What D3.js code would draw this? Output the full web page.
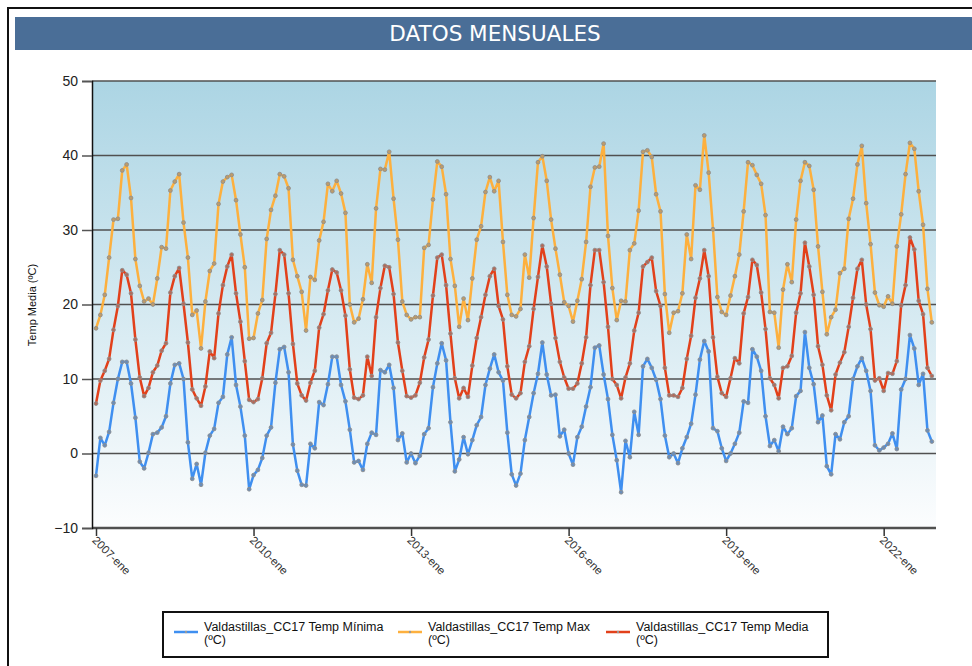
<!DOCTYPE html>
<html>
<head>
<meta charset="utf-8">
<script src="https://cdn.jsdelivr.net/npm/d3@7"></script>
<style>
  body { margin: 0; background: #fff; }
  svg { display: block; font-family: "Liberation Sans", Arial, sans-serif; }
</style>
</head>
<body>
<svg width="972" height="666"></svg>
<script>
var chartTitle = "DATOS MENSUALES";
var yAxisTitle = "Temp Media (ºC)";
var startYear = 2007;
var monthNames = ["ene","feb","mar","abr","may","jun","jul","ago","sep","oct","nov","dic"];
var yTicks = [-10, 0, 10, 20, 30, 40, 50];
var xTickLabels = ["2007-ene", "2010-ene", "2013-ene", "2016-ene", "2019-ene", "2022-ene"];
var seriesNames = ["Valdastillas_CC17 Temp Mínima (ºC)", "Valdastillas_CC17 Temp Max (ºC)", "Valdastillas_CC17 Temp Media (ºC)"];

// monthly values, 2007-ene .. 2022-dic
var tempMin = [
  -3.0, 2.1, 1.1, 2.9, 6.8, 10.0, 12.3, 12.3, 9.4, 4.8, -1.1, -2.0,
  0.1, 2.6, 2.8, 3.5, 5.0, 9.4, 11.9, 12.1, 10.0, 1.5, -3.4, -1.4,
  -4.2, 0.1, 2.4, 3.3, 6.8, 7.6, 13.3, 15.6, 9.2, 6.3, 2.4, -4.8,
  -2.9, -2.2, -0.6, 2.4, 3.5, 9.5, 14.0, 14.3, 10.9, 1.2, -2.3, -4.2,
  -4.3, 1.3, 0.7, 6.9, 6.5, 9.3, 13.0, 13.0, 9.2, 7.0, 3.2, -1.2,
  -1.0, -2.2, 1.3, 2.8, 2.5, 11.2, 10.9, 11.9, 8.8, 1.8, 2.7, -1.2,
  0.0, -1.3, -0.3, 2.6, 3.4, 8.9, 12.1, 14.8, 12.5, 4.2, -2.4, -0.8,
  2.2, -0.1, 1.8, 3.8, 4.9, 9.2, 11.4, 13.3, 10.9, 9.8, 2.8, -2.8,
  -4.3, -2.7, 1.8, 4.9, 8.1, 10.7, 14.9, 10.6, 7.8, 7.9, 2.3, 3.2,
  0.0, -1.5, 2.2, 3.6, 6.3, 8.9, 14.2, 14.5, 10.6, 7.3, 2.5, -0.9,
  -5.2, 1.7, -0.5, 5.6, 2.5, 11.7, 12.7, 11.5, 9.9, 7.3, 2.4, -0.5,
  0.0, -1.3, 0.7, 2.2, 4.0, 7.9, 12.6, 15.1, 13.7, 3.4, 3.0, 0.7,
  -1.0, 0.0, 1.3, 2.8, 7.0, 6.8, 14.0, 13.0, 11.1, 5.0, 1.0, 1.8,
  0.3, 3.6, 2.6, 3.4, 7.7, 8.4, 16.3, 11.5, 9.3, 4.2, 5.1, -1.7,
  -2.8, 2.6, 1.9, 4.2, 5.0, 10.0, 11.7, 12.8, 11.1, 8.4, 1.1, 0.4,
  0.8, 1.3, 2.7, 0.6, 8.6, 10.0, 15.9, 14.1, 9.2, 10.7, 3.1, 1.6
];
var tempMax = [
  16.8, 18.6, 21.3, 26.3, 31.4, 31.5, 38.0, 38.8, 34.3, 26.1, 22.5, 20.4,
  20.8, 20.0, 23.5, 27.7, 27.5, 35.3, 36.5, 37.5, 31.0, 26.3, 18.6, 19.2,
  14.1, 20.4, 24.5, 25.5, 33.5, 36.5, 37.1, 37.4, 34.0, 29.4, 25.0, 15.4,
  15.5, 18.8, 20.6, 28.8, 32.7, 34.6, 37.5, 37.2, 35.6, 26.0, 23.8, 21.7,
  16.5, 23.7, 23.3, 28.6, 31.1, 36.2, 35.2, 36.6, 34.9, 32.3, 20.0, 17.6,
  18.1, 20.7, 25.4, 22.9, 32.9, 38.2, 38.1, 40.5, 34.2, 28.7, 20.4, 18.6,
  18.0, 18.3, 18.3, 27.6, 28.0, 34.1, 39.2, 38.5, 34.8, 26.1, 22.5, 17.0,
  20.8, 17.9, 23.5, 28.7, 30.5, 35.1, 37.1, 35.2, 36.6, 28.4, 21.3, 18.6,
  18.4, 19.4, 26.7, 23.6, 31.6, 39.1, 39.9, 36.6, 31.4, 27.5, 24.0, 20.3,
  19.8, 17.7, 20.5, 23.4, 28.4, 35.8, 38.4, 38.5, 41.6, 29.2, 22.2, 17.9,
  20.5, 20.4, 27.3, 28.2, 32.6, 40.5, 40.7, 39.8, 34.8, 32.5, 21.4, 16.2,
  18.9, 19.1, 21.5, 29.4, 26.1, 36.0, 35.4, 42.7, 37.7, 30.1, 21.0, 19.0,
  18.6, 21.2, 23.8, 26.7, 32.5, 39.1, 38.7, 37.4, 36.2, 32.0, 19.0, 18.9,
  14.2, 22.0, 25.4, 23.0, 31.4, 36.6, 39.1, 38.6, 35.4, 27.8, 21.7, 16.0,
  18.3, 19.3, 24.2, 24.8, 31.5, 34.2, 38.8, 41.3, 33.6, 28.1, 21.6, 19.9,
  19.7, 21.1, 20.1, 27.8, 32.1, 37.5, 41.7, 40.9, 35.2, 30.7, 22.1, 17.6
];
var tempMedia = [
  6.7, 9.8, 11.1, 12.7, 16.6, 19.8, 24.6, 24.0, 21.5, 15.3, 10.2, 7.7,
  8.8, 10.9, 11.8, 13.8, 14.8, 21.6, 23.8, 24.9, 20.1, 14.9, 8.6, 7.4,
  6.4, 9.0, 13.7, 12.8, 18.8, 22.6, 25.1, 26.7, 21.5, 17.7, 12.4, 7.2,
  6.9, 7.3, 10.1, 14.8, 16.2, 21.4, 27.3, 26.7, 21.5, 14.7, 9.4, 7.8,
  7.1, 9.5, 11.1, 16.9, 18.7, 21.9, 24.7, 24.3, 21.9, 18.5, 11.3, 7.5,
  7.3, 7.8, 13.0, 10.4, 18.3, 22.2, 25.2, 25.0, 21.4, 14.9, 11.1, 7.7,
  7.5, 7.8, 9.5, 12.9, 15.3, 21.2, 26.3, 26.7, 22.6, 16.1, 10.1, 7.4,
  8.8, 7.6, 11.8, 15.5, 18.3, 21.3, 23.8, 24.8, 19.8, 18.0, 11.7, 7.9,
  7.4, 8.1, 12.3, 14.4, 19.4, 23.7, 27.9, 25.1, 20.1, 15.5, 12.3, 10.2,
  8.7, 8.7, 9.4, 12.1, 15.6, 22.6, 27.3, 27.3, 23.0, 17.0, 10.0, 9.2,
  7.4, 10.2, 12.1, 16.5, 18.9, 25.1, 25.7, 26.3, 21.8, 19.8, 11.5, 7.8,
  7.8, 7.6, 8.8, 12.7, 15.8, 20.9, 23.5, 27.3, 23.8, 15.6, 10.3, 8.1,
  7.6, 10.1, 12.8, 12.1, 18.8, 21.0, 26.0, 25.3, 21.6, 16.7, 10.1, 9.2,
  7.4, 11.5, 11.7, 13.1, 18.9, 21.5, 28.3, 25.1, 21.3, 14.4, 11.9, 7.8,
  5.8, 10.6, 12.2, 13.6, 17.0, 20.9, 24.8, 26.0, 20.0, 16.7, 9.8, 10.1,
  8.4, 10.8, 10.7, 12.4, 19.9, 22.6, 29.0, 27.4, 20.5, 18.7, 11.5, 10.4
];
var seriesColors = ["#3f8ff0", "#fdb03e", "#e2401a"];

// category labels, one per month
var months = tempMin.map(function(d, i) {
    return (startYear + Math.floor(i / 12)) + "-" + monthNames[i % 12];
});

var svg = d3.select("svg");

// outer frame and title bar
svg.append("rect")
   .attr("x", 8).attr("y", 8)
   .attr("width", 1000).attr("height", 700)
   .attr("fill", "#fff")
   .attr("stroke", "#111")
   .attr("stroke-width", 2);

svg.append("rect")
   .attr("x", 15).attr("y", 17)
   .attr("width", 980).attr("height", 33)
   .attr("fill", "#4a6e97");

svg.append("text")
   .attr("x", 495).attr("y", 41)
   .attr("text-anchor", "middle")
   .attr("fill", "#fff")
   .style("font-family", "'DejaVu Sans', Verdana, sans-serif")
   .style("font-size", "21.5px")
   .text(chartTitle);

var plotLeft = 92, plotRight = 936, plotTop = 81, plotBottom = 528;

var x = d3.scalePoint().domain(months).range([96, 96 + 191 * 4.376]),
    y = d3.scaleLinear().domain([-10, 50]).range([plotBottom, plotTop]);

// plot background gradient
var grad = svg.append("defs").append("linearGradient")
   .attr("id", "bg").attr("x1", 0).attr("y1", 0).attr("x2", 0).attr("y2", 1);
grad.append("stop").attr("offset", "0%").attr("stop-color", "#acd5e4");
grad.append("stop").attr("offset", "100%").attr("stop-color", "#fcfdfe");

svg.append("rect")
   .attr("x", plotLeft).attr("y", plotTop)
   .attr("width", plotRight - plotLeft).attr("height", plotBottom - plotTop)
   .attr("fill", "url(#bg)");

// gridlines
svg.append("g")
   .selectAll("line")
   .data(yTicks)
   .enter().append("line")
   .attr("x1", plotLeft).attr("x2", plotRight)
   .attr("y1", function(d) { return y(d); })
   .attr("y2", function(d) { return y(d); })
   .attr("stroke", "#505050")
   .attr("stroke-width", function(d) { return d == -10 ? 2.5 : 1.5; });

// y axis
var yAxis = svg.append("g")
   .attr("transform", "translate(" + plotLeft + ",0)")
   .call(d3.axisLeft(y).tickValues(yTicks).tickSize(10).tickPadding(4));
yAxis.select(".domain").attr("stroke", "#111").attr("stroke-width", 1.5);
yAxis.selectAll(".tick line").attr("stroke", "#555").attr("stroke-width", 1.5);
yAxis.selectAll(".tick text")
   .attr("fill", "#222")
   .style("font-size", "14px")
   .style("font-family", "'Liberation Sans', Arial, sans-serif");

svg.append("text")
   .attr("transform", "translate(36,305) rotate(-90)")
   .attr("text-anchor", "middle")
   .attr("fill", "#111")
   .style("font-size", "11px")
   .text(yAxisTitle);

// x axis
var xTicks = months.filter(function(m) { return xTickLabels.indexOf(m) >= 0; });
var xAxis = svg.append("g")
   .attr("transform", "translate(0," + plotBottom + ")")
   .call(d3.axisBottom(x).tickValues(xTicks).tickSize(8).tickPadding(2));
xAxis.select(".domain").remove();
xAxis.selectAll(".tick line").attr("stroke", "#333").attr("stroke-width", 1.5);
xAxis.selectAll(".tick text")
   .attr("text-anchor", "start")
   .attr("transform", "translate(2,6) rotate(45)")
   .attr("y", 6).attr("x", 0).attr("dy", "0.35em")
   .attr("fill", "#333")
   .style("font-size", "11.5px")
   .style("font-family", "'Liberation Sans', Arial, sans-serif");

// series
var allSeries = [tempMin, tempMax, tempMedia];
var line = d3.line()
   .x(function(d, i) { return x(months[i]); })
   .y(function(d) { return y(d); });

allSeries.forEach(function(vals, k) {
    svg.append("path")
       .datum(vals)
       .attr("fill", "none")
       .attr("stroke", seriesColors[k])
       .attr("stroke-width", 2.5)
       .attr("stroke-linejoin", "round")
       .attr("d", line);

    svg.append("g")
       .selectAll("circle")
       .data(vals)
       .enter().append("circle")
       .attr("cx", function(d, i) { return x(months[i]); })
       .attr("cy", function(d) { return y(d); })
       .attr("r", 1.9)
       .attr("fill", d3.interpolateRgb(seriesColors[k], "#8c8c8c")(0.55))
       .attr("stroke", "#8f8f8f")
       .attr("stroke-width", 0.9);
});

// legend
var legend = svg.append("g");
legend.append("rect")
   .attr("x", 163).attr("y", 612)
   .attr("width", 665).attr("height", 45)
   .attr("fill", "#fff")
   .attr("stroke", "#111")
   .attr("stroke-width", 2);

var legendX = [174, 398, 606];
seriesNames.forEach(function(name, k) {
    var lx = legendX[k];
    legend.append("line")
       .attr("x1", lx).attr("x2", lx + 24)
       .attr("y1", 632).attr("y2", 632)
       .attr("stroke", seriesColors[k])
       .attr("stroke-width", 2.5);
    legend.append("circle")
       .attr("cx", lx + 12).attr("cy", 632).attr("r", 1.2)
       .attr("fill", "#999");
    var parts = name.split(" (");
    var t = legend.append("text")
       .attr("fill", "#111")
       .style("font-size", "12.5px");
    t.append("tspan").attr("x", lx + 30).attr("y", 631).text(parts[0]);
    t.append("tspan").attr("x", lx + 30).attr("y", 644).text("(" + parts[1]);
});
</script>
</body>
</html>
